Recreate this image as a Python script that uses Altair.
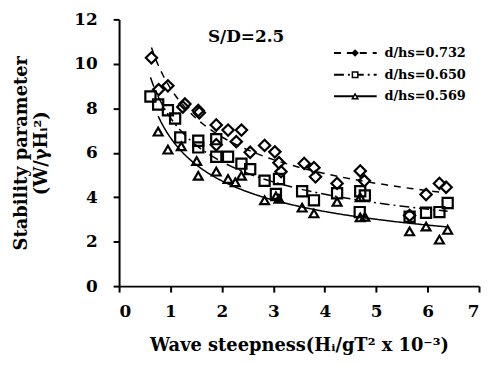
import altair as alt
import pandas as pd

series_names = ["d/hs=0.732", "d/hs=0.650", "d/hs=0.569"]

x_732 = [0.63, 0.77, 0.95, 1.24, 1.28, 1.54, 1.56, 1.89, 1.89, 2.12, 2.28, 2.38, 2.55, 2.83, 3.03, 3.11, 3.15, 3.6, 3.79, 3.82, 4.24, 4.69, 4.77, 5.65, 5.97, 6.23, 6.36]
y_732 = [10.27, 8.84, 9.01, 8.06, 8.19, 7.9, 7.8, 7.25, 6.36, 7.02, 6.5, 7.02, 6.02, 6.33, 6.04, 5.55, 5.15, 5.52, 5.33, 4.92, 4.62, 5.18, 4.74, 3.18, 4.12, 4.62, 4.45]

x_650 = [0.61, 0.76, 0.95, 1.09, 1.19, 1.54, 1.54, 1.89, 1.89, 2.12, 2.38, 2.55, 2.83, 3.05, 3.11, 3.56, 3.79, 4.24, 4.68, 4.69, 4.78, 5.65, 5.97, 6.23, 6.39]
y_650 = [8.53, 8.17, 7.91, 7.54, 6.69, 6.54, 6.24, 6.61, 5.82, 5.82, 5.51, 5.26, 4.74, 4.15, 4.82, 4.27, 3.86, 4.18, 3.33, 4.27, 4.08, 3.12, 3.3, 3.33, 3.74]

x_569 = [0.76, 0.95, 1.21, 1.51, 1.54, 1.89, 2.12, 2.26, 2.38, 2.83, 3.05, 3.11, 3.56, 3.79, 4.24, 4.69, 4.69, 4.78, 5.65, 5.97, 6.23, 6.39]
y_569 = [6.95, 6.14, 6.29, 5.63, 4.96, 5.15, 4.82, 4.67, 4.96, 3.86, 4.04, 3.93, 3.53, 3.27, 3.79, 3.09, 4.0, 3.12, 2.46, 2.68, 2.09, 2.53]

x_ticks = [0, 1, 2, 3, 4, 5, 6, 7]
y_ticks = [0, 2, 4, 6, 8, 10, 12]

rows = []
for name, xs, ys in [(series_names[0], x_732, y_732), (series_names[1], x_650, y_650), (series_names[2], x_569, y_569)]:
    for a, b in zip(xs, ys):
        rows.append({"x": a, "y": b, "series": name})
df = pd.DataFrame(rows)

FONT = "DejaVu Serif"
shapes = ["diamond", "square", "triangle-up"]
sizes = [130, 80, 100]
dashes = [[7, 6], [10, 4, 2, 4], [1, 0]]

xs = alt.X("x:Q", scale=alt.Scale(domain=[0, 7]),
           axis=alt.Axis(values=x_ticks, title="Wave steepness(Hᵢ/gT² x 10⁻³)", format="d"))
ys = alt.Y("y:Q", scale=alt.Scale(domain=[0, 12]),
           axis=alt.Axis(values=y_ticks, title=["Stability parameter", "(W/γHᵢ²)"], format="d"))

base = alt.Chart(df)

points = base.mark_point(filled=False, stroke="black", strokeWidth=2.2, opacity=1).encode(
    x=xs, y=ys,
    shape=alt.Shape("series:N", scale=alt.Scale(domain=series_names, range=shapes), legend=None),
    size=alt.Size("series:N", scale=alt.Scale(domain=series_names, range=sizes), legend=None),
)

lines = base.transform_regression("x", "y", method="pow", groupby=["series"]).mark_line(
    color="black", strokeWidth=1.5
).encode(
    x="x:Q", y="y:Q",
    strokeDash=alt.StrokeDash("series:N", scale=alt.Scale(domain=series_names, range=dashes), legend=None),
)

# legend built in data space
leg_y = [10.49, 9.51, 8.54]
leg = pd.DataFrame({"series": series_names, "y": leg_y, "x1": [4.18] * 3, "x2": [5.01] * 3,
                    "xm": [4.59] * 3, "xt": [5.16] * 3})
leg_lines = alt.Chart(leg).mark_rule(color="black", strokeWidth=2).encode(
    x="x1:Q", x2="x2:Q", y="y:Q",
    strokeDash=alt.StrokeDash("series:N", scale=alt.Scale(domain=series_names, range=[[6, 5], [12, 5, 5, 5], [1, 0]]), legend=None),
)
leg_pts = alt.Chart(leg).mark_point(stroke="black", strokeWidth=1.5, size=30, filled=False, opacity=1).encode(
    x="xm:Q", y="y:Q",
    shape=alt.Shape("series:N", scale=alt.Scale(domain=series_names, range=shapes), legend=None),
    fill=alt.Fill("series:N", scale=alt.Scale(domain=series_names, range=["black", "white", "white"]), legend=None),
)
leg_txt = alt.Chart(leg).mark_text(align="left", baseline="middle", font=FONT, fontWeight="bold",
                                   fontSize=13, color="black").encode(
    x="xt:Q", y="y:Q", text="series:N"
)

note = pd.DataFrame({"x": [2.47], "y": [11.2], "t": ["S/D=2.5"]})
note_txt = alt.Chart(note).mark_text(font=FONT, fontWeight="bold", fontSize=17, color="black").encode(
    x="x:Q", y="y:Q", text="t:N"
)

chart = alt.layer(lines, points, leg_lines, leg_pts, leg_txt, note_txt).properties(
    width=363, height=269,
    autosize=alt.AutoSizeParams(type="none"),
    padding={"left": 112, "top": 10, "right": 2, "bottom": 70},
).configure_view(stroke=None).configure_axis(
    grid=False, domainColor="black", domainWidth=2, tickColor="black", tickWidth=2, tickSize=6,
    labelFont=FONT, labelFontSize=17, labelFontWeight="bold", labelColor="black",
    titleFont=FONT, titleFontSize=18, titleFontWeight="bold", titleColor="black",
).configure_axisX(titlePadding=17, labelPadding=12).configure_axisY(titlePadding=24, labelPadding=16)

chart.save("out.html", embed_options={"renderer": "svg", "actions": False})
